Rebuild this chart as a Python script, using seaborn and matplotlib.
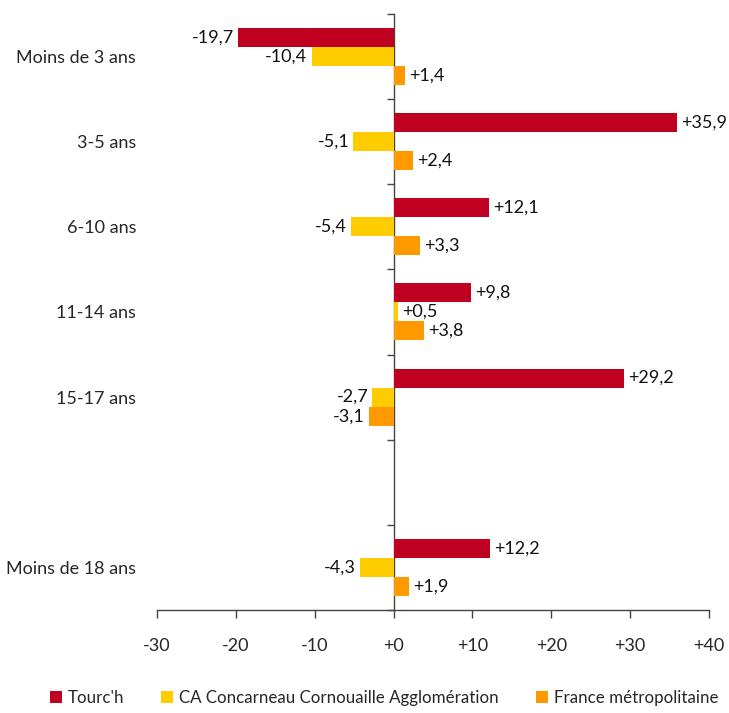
import numpy as np
import pandas as pd
import matplotlib
matplotlib.use("Agg")
import matplotlib.pyplot as plt
import seaborn as sns
from matplotlib.ticker import FuncFormatter

# -------------------- Data --------------------
categories = ["Moins de 3 ans", "3-5 ans", "6-10 ans", "11-14 ans", "15-17 ans", "Moins de 18 ans"]
order = ["Moins de 3 ans", "3-5 ans", "6-10 ans", "11-14 ans", "15-17 ans", " ", "Moins de 18 ans"]
series = ["Tourc'h", "CA Concarneau Cornouaille Agglomération", "France métropolitaine"]
tourch = [-19.7, 35.9, 12.1, 9.8, 29.2, 12.2]
ca_ccc = [-10.4, -5.1, -5.4, 0.5, -2.7, -4.3]
france = [1.4, 2.4, 3.3, 3.8, -3.1, 1.9]
colors = ["#C00020", "#FFCC00", "#FF9900"]
x_ticks = [-30, -20, -10, 0, 10, 20, 30, 40]

rows = []
for name, vals in zip(series, [tourch, ca_ccc, france]):
    for cat, v in zip(categories, vals):
        rows.append({"age": cat, "serie": name, "val": v})
df = pd.DataFrame(rows)


def fmt_signed(v, dec=1):
    return f"{v:+.{dec}f}".replace(".", ",")


# -------------------- Plot --------------------
sns.set_style("white")
plt.rcParams["font.family"] = ["Lato", "DejaVu Sans"]
FS = 13

fig = plt.figure(figsize=(7.29, 7.13), dpi=100)
ax = fig.add_axes([0.2154, 0.1445, 0.7572, 0.8359])

sns.barplot(data=df, y="age", x="val", hue="serie", order=order, hue_order=series,
            palette=colors, orient="h", width=0.67, saturation=1, ax=ax, legend=True,
            edgecolor="none", linewidth=0)

for cont in ax.containers:
    for bar in cont:
        w = bar.get_width()
        yc = bar.get_y() + bar.get_height() / 2
        lab = fmt_signed(w)
        if w >= 0:
            ax.annotate(lab, (w, yc), xytext=(3, 0), textcoords="offset points",
                        ha="left", va="center", fontsize=FS, color="#111111")
        else:
            ax.annotate(lab, (w, yc), xytext=(-3, 0), textcoords="offset points",
                        ha="right", va="center", fontsize=FS, color="#111111")

ax.set_xlim(-30, 40)
ax.set_ylim(len(order) - 0.5, -0.5)
ax.set_xticks(x_ticks)
ax.xaxis.set_major_formatter(FuncFormatter(lambda v, p: f"{int(v):+d}" if v != 0 else "+0"))
ax.tick_params(axis="x", bottom=True, direction="out", length=6, width=1, color="#444444",
               pad=14, labelsize=FS)
ax.tick_params(axis="y", left=False, length=0, pad=15, labelsize=FS)
ax.set_xlabel("")
ax.set_ylabel("")

for side in ["top", "right", "left"]:
    ax.spines[side].set_visible(False)
ax.spines["bottom"].set_color("#444444")
ax.spines["bottom"].set_linewidth(1)

# vertical axis at zero with tick marks between groups
sec = ax.secondary_yaxis(30 / 70)
sec.set_yticks(np.arange(-0.5, len(order), 1.0))
sec.set_yticklabels([])
sec.tick_params(axis="y", left=True, direction="out", length=5, width=1, color="#444444")
sec.spines["left"].set_color("#444444")
sec.spines["left"].set_linewidth(1)
sec.spines["right"].set_visible(False)

handles, labs = ax.get_legend_handles_labels()
ax.get_legend().remove()
fig.legend(handles, labs, loc="lower center", bbox_to_anchor=(0.527, -0.012), ncol=3,
           frameon=False, handlelength=0.7, handleheight=0.7, handletextpad=0.35,
           columnspacing=2.2, fontsize=12.2)

fig.savefig("out.png", dpi=100)
